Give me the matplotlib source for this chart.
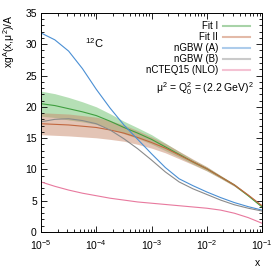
import numpy as np
import matplotlib
matplotlib.use('Agg')
import matplotlib.pyplot as plt
from matplotlib.ticker import LogLocator, MultipleLocator, NullFormatter

plt.rcParams['font.family'] = ['Liberation Sans', 'DejaVu Sans']
plt.rcParams['mathtext.fontset'] = 'custom'
plt.rcParams['mathtext.rm'] = 'Liberation Sans'
plt.rcParams['mathtext.it'] = 'Liberation Sans'

# log10(x) grid, quarter decades
logx = [-5, -4.75, -4.5, -4.25, -4, -3.75, -3.5, -3.25, -3,
        -2.75, -2.5, -2.25, -2, -1.75, -1.5, -1.25, -1]

fit1 = [20.5, 20.2, 19.7, 19.2, 18.6, 17.7, 16.7, 15.8, 14.8,
        13.6, 12.4, 11.2, 10.1, 8.8, 7.5, 5.8, 4.0]
fit1_err = [2.0, 1.9, 1.8, 1.6, 1.4, 1.2, 1.0, 0.85, 0.75,
            0.6, 0.45, 0.35, 0.3, 0.2, 0.15, 0.12, 0.1]
fit2 = [17.3, 17.2, 17.1, 16.9, 16.7, 16.3, 15.8, 15.1, 14.3,
        13.4, 12.3, 11.2, 10.1, 8.8, 7.5, 5.9, 4.2]
fit2_err = [1.75, 1.75, 1.75, 1.7, 1.65, 1.5, 1.3, 1.1, 0.9,
            0.75, 0.6, 0.45, 0.35, 0.25, 0.2, 0.15, 0.1]
ngbw_a = [31.8, 30.7, 28.9, 26.1, 22.8, 19.8, 17.1, 14.8, 12.5,
          10.3, 8.5, 7.4, 6.4, 5.5, 4.7, 4.05, 3.5]
ngbw_b = [17.6, 18.0, 18.1, 17.8, 17.3, 16.3, 14.9, 13.3, 11.5,
          9.6, 8.0, 6.9, 6.0, 5.1, 4.35, 3.8, 3.35]
ncteq = [8.0, 7.3, 6.7, 6.2, 5.8, 5.4, 5.1, 4.8, 4.6,
         4.4, 4.2, 4.0, 3.8, 3.5, 3.0, 2.3, 1.4]

x = 10.0 ** np.array(logx)
fit1 = np.array(fit1); fit1_err = np.array(fit1_err)
fit2 = np.array(fit2); fit2_err = np.array(fit2_err)

c_green = '#3f9f3f'
c_orange = '#c1673f'
c_blue = '#4a8fd4'
c_gray = '#8a8a8a'
c_pink = '#e8799e'

fig = plt.figure(figsize=(2.77, 2.69), dpi=100)
ax = fig.add_axes([0.148, 0.1375, 0.798, 0.8145])

ax.fill_between(x, fit1 - fit1_err, fit1 + fit1_err, color='#5cb85c', alpha=0.45, lw=0)
ax.fill_between(x, fit2 - fit2_err, fit2 + fit2_err, color='#c98a6c', alpha=0.5, lw=0)
ax.plot(x, fit1, color=c_green, lw=0.8, label='Fit I')
ax.plot(x, fit2, color=c_orange, lw=0.8, label='Fit II')
ax.plot(x, ngbw_a, color=c_blue, lw=0.8, label='nGBW (A)')
ax.plot(x, ngbw_b, color=c_gray, lw=0.8, label='nGBW (B)')
ax.plot(x, ncteq, color=c_pink, lw=0.8, label='nCTEQ15 (NLO)')

ax.set_xscale('log')
ax.set_xlim(1e-5, 1e-1)
ax.set_ylim(0, 35)
ax.xaxis.set_major_locator(LogLocator(base=10, numticks=10))
ax.xaxis.set_minor_locator(LogLocator(base=10, subs=np.arange(2, 10), numticks=20))
ax.xaxis.set_minor_formatter(NullFormatter())
ax.yaxis.set_major_locator(MultipleLocator(5))
ax.yaxis.set_minor_locator(MultipleLocator(1))
ax.tick_params(which='both', direction='in', top=True, right=True, labelsize=7.5, width=0.6)
ax.tick_params(which='major', length=4, pad=3)
ax.tick_params(axis='x', which='major', pad=4.5)
ax.tick_params(which='minor', length=2)
for s in ax.spines.values():
    s.set_linewidth(0.7)

ax.set_ylabel(r'xg$^{\rm A}$(x,$\mu^2$)/A', fontsize=7.5)
ax.yaxis.set_label_coords(-0.11, 0.87)
ax.text(0.98, -0.12, 'x', transform=ax.transAxes, fontsize=7.5, ha='center', va='top')
ax.text(0.24, 0.84, r'$^{12}$C', transform=ax.transAxes, fontsize=8, ha='center')
ax.text(0.74, 0.655, r'$\mu^2$ = Q$_0^2$ = (2.2 GeV)$^2$', transform=ax.transAxes,
        fontsize=7.5, ha='center', va='center')

leg = ax.legend(loc='upper right', bbox_to_anchor=(0.964, 0.98), frameon=False,
                fontsize=7, markerfirst=False, handlelength=2.8, handletextpad=0.5,
                labelspacing=0.1, borderaxespad=0)
for h in leg.get_lines():
    h.set_alpha(0.45)
    h.set_linewidth(1.5)

fig.savefig('out.png', dpi=100)
